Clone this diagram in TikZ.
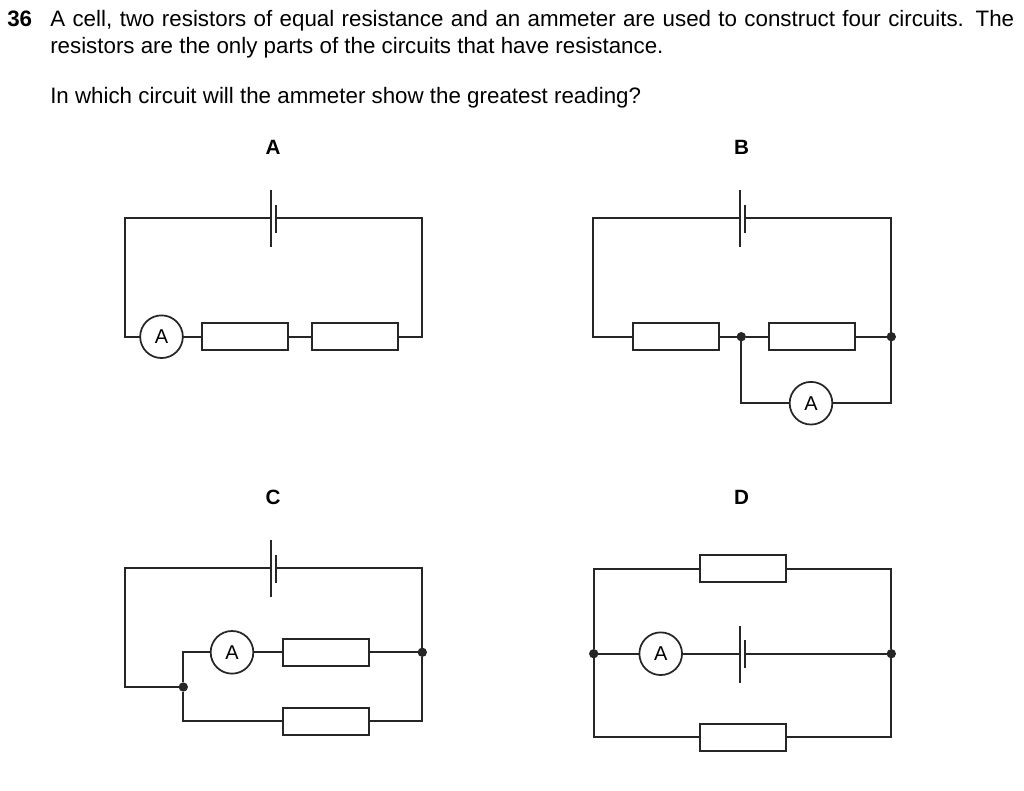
\documentclass[tikz,border=0pt]{standalone}
\usepackage{fontspec}
\setmainfont{Liberation Sans}
\tikzset{
  x=0.75pt,y=-0.75pt,
  wire/.style={line width=1.6pt,line join=miter,black!85},
  plate/.style={line width=1.6pt,black!85},
  resistor/.style={draw=black!85,line width=1.6pt,fill=white,rectangle,minimum width=64.5pt,minimum height=20.25pt,inner sep=0pt,outer sep=0pt},
  ammeter/.style={draw=black!85,line width=1.3pt,fill=white,circle,minimum size=32pt,inner sep=0pt,outer sep=0pt,font=\fontsize{15}{16}\selectfont},
  junction/.style={circle,fill=black!85,minimum size=7pt,inner sep=0pt,outer sep=0pt},
  body/.style={anchor=base west,inner sep=0pt,font=\fontsize{16.75}{19}\selectfont},
  letter/.style={anchor=base,inner sep=0pt,font=\fontsize{15.5}{17}\selectfont\bfseries},
}
\begin{document}
\begin{tikzpicture}
\useasboundingbox[fill=white] (0,0) rectangle (1024,790);
% text
\node[body,font=\fontsize{16.75}{19}\selectfont\bfseries] (qn) at (7,26.6) {36};
\node[body] (l1) at (50,26.6) {\makebox[723pt][s]{A cell, two resistors of equal resistance and an ammeter are used to construct four circuits. The}};
\node[body] (l2) at (50,53) {resistors are the only parts of the circuits that have resistance.};
\node[body] (l3) at (50,103) {In which circuit will the ammeter show the greatest reading?};
\node[letter] (la) at (273,154) {A};
\node[letter] (lb) at (741.5,154) {B};
\node[letter] (lc) at (273,504) {C};
\node[letter] (ld) at (741.5,504) {D};

% Circuit A
\coordinate (a1) at (271,217.7);
\coordinate (a2) at (276.2,217.7);
\coordinate (atl) at (124.7,217.7);
\coordinate (atr) at (422.3,217.7);
\node[ammeter] (aA) at (161.5,336.7) {A};
\node[resistor] (aR1) at (245.2,336.7) {};
\node[resistor] (aR2) at (355,336.7) {};
\draw[wire] (a1) -- (atl) |- (aA.west);
\draw[wire] (a2) -- (atr) |- (aR2.east);
\draw[wire] (aA.east) -- (aR1.west);
\draw[wire] (aR1.east) -- (aR2.west);
\draw[plate] (271,190) -- (a1) -- (271,247);
\draw[plate] (a2) ++(0,-13.2) -- (a2) -- ++(0,14.8);

% Circuit B
\coordinate (b1) at (740,217.7);
\coordinate (b2) at (745.3,217.7);
\coordinate (btl) at (593.3,217.7);
\coordinate (btr) at (891.3,217.7);
\node[resistor] (bR1) at (676,336.7) {};
\node[resistor] (bR2) at (812,336.7) {};
\node[junction] (bJ1) at (741.3,336.7) {};
\node[junction] (bJ2) at (891.3,336.7) {};
\node[ammeter] (bA) at (811,403.2) {A};
\draw[wire] (b1) -- (btl) |- (bR1.west);
\draw[wire] (b2) -- (btr) -- (bJ2.center);
\draw[wire] (bR1.east) -- (bJ1);
\draw[wire] (bJ1) -- (bR2.west);
\draw[wire] (bR2.east) -- (bJ2);
\draw[wire] (bJ1) |- (bA.west);
\draw[wire] (bJ2) |- (bA.east);
\draw[plate] (740,190) -- (b1) -- (740,247);
\draw[plate] (b2) ++(0,-13.2) -- (b2) -- ++(0,14.8);

% Circuit C
\coordinate (c1) at (271,568);
\coordinate (c2) at (276.2,568);
\coordinate (ctl) at (124.7,568);
\coordinate (ctr) at (422.3,568);
\node[junction] (cJ1) at (183.3,687) {};
\node[junction] (cJ2) at (422.3,652.3) {};
\node[ammeter] (cA) at (232,652.3) {A};
\node[resistor] (cR1) at (325.8,652.3) {};
\node[resistor] (cR2) at (325.8,721.3) {};
\draw[wire] (c1) -- (ctl) |- (cJ1);
\draw[wire] (c2) -- (ctr) -- (cJ2);
\draw[wire] (cJ1) |- (cA.west);
\draw[wire] (cA.east) -- (cR1.west);
\draw[wire] (cR1.east) -- (cJ2);
\draw[wire] (cJ1) |- (cR2.west);
\draw[wire] (cJ2) |- (cR2.east);
\draw[plate] (271,540) -- (c1) -- (271,597);
\draw[plate] (c2) ++(0,-13.5) -- (c2) -- ++(0,14.5);

% Circuit D
\coordinate (d1) at (740,653.7);
\coordinate (d2) at (745.3,653.7);
\node[resistor] (dR1) at (743,568.7) {};
\node[resistor] (dR2) at (743,737.3) {};
\node[junction] (dJ1) at (593.7,653.7) {};
\node[junction] (dJ2) at (891.3,653.7) {};
\node[ammeter] (dA) at (660.7,653.7) {A};
\draw[wire] (dJ1) |- (dR1.west);
\draw[wire] (dJ2) |- (dR1.east);
\draw[wire] (dJ1) |- (dR2.west);
\draw[wire] (dJ2) |- (dR2.east);
\draw[wire] (dJ1) -- (dA.west);
\draw[wire] (dA.east) -- (d1);
\draw[wire] (d2) -- (dJ2);
\draw[plate] (740,626) -- (d1) -- (740,683);
\draw[plate] (745.3,640) -- (d2) -- (745.3,668);
\end{tikzpicture}
\end{document}
